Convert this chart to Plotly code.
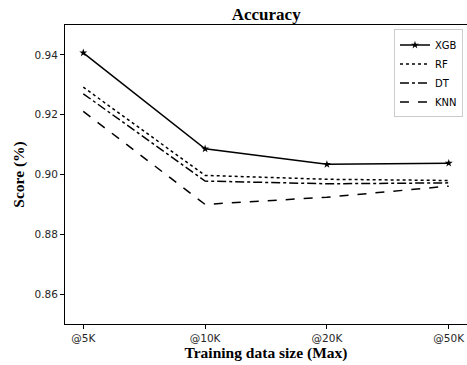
import plotly.graph_objects as go

categories = ["@5K", "@10K", "@20K", "@50K"]
xgb = [0.9407, 0.9086, 0.9034, 0.9038]
rf = [0.9292, 0.8997, 0.8984, 0.8980]
dt = [0.9270, 0.8978, 0.8969, 0.8972]
knn = [0.9211, 0.8900, 0.8924, 0.8961]
y_ticks = [0.86, 0.88, 0.90, 0.92, 0.94]

xi = list(range(len(categories)))
fig = go.Figure()
fig.add_trace(go.Scatter(x=xi, y=xgb, name="XGB", mode="lines+markers",
                         line=dict(color="black", width=1.5),
                         marker=dict(symbol="star", size=6, color="black")))
fig.add_trace(go.Scatter(x=xi, y=rf, name="RF", mode="lines",
                         line=dict(color="black", width=1.5, dash="dot")))
fig.add_trace(go.Scatter(x=xi, y=dt, name="DT", mode="lines",
                         line=dict(color="black", width=1.5, dash="dashdot")))
fig.add_trace(go.Scatter(x=xi, y=knn, name="KNN", mode="lines",
                         line=dict(color="black", width=1.5, dash="dash")))

fig.update_layout(
    width=467, height=365,
    margin=dict(l=65, r=0, t=25, b=41),
    paper_bgcolor="white", plot_bgcolor="white",
    font=dict(family="DejaVu Sans", size=10.5, color="#262626"),
    title=dict(text="<b>Accuracy</b>", x=0.57, xanchor="center", y=0.978, yanchor="top",
               font=dict(family="Liberation Serif", size=17, color="black")),
    xaxis=dict(range=[-0.15, 3.15], tickmode="array", tickvals=xi, ticktext=categories,
               showline=True, linecolor="black", linewidth=1, mirror=True,
               ticks="outside", ticklen=4, tickcolor="black", showgrid=False, zeroline=False,
               title=dict(text="<b>Training data size (Max)</b>", standoff=4,
                          font=dict(family="Liberation Serif", size=15.5, color="black"))),
    yaxis=dict(range=[0.85, 0.95], tickmode="array", tickvals=y_ticks,
               ticktext=[f"{v:.2f}" for v in y_ticks],
               showline=True, linecolor="black", linewidth=1, mirror=True,
               ticks="outside", ticklen=4, tickcolor="black", showgrid=False, zeroline=False,
               title=dict(text="<b>Score (%)</b>", standoff=6,
                          font=dict(family="Liberation Serif", size=15.5, color="black"))),
    legend=dict(x=0.99, y=0.985, xanchor="right", yanchor="top",
                bordercolor="#cccccc", borderwidth=1, bgcolor="white",
                font=dict(family="DejaVu Sans", size=10, color="black"),
                tracegroupgap=0, itemwidth=30),
    showlegend=True,
)
fig.write_html("out.html")
